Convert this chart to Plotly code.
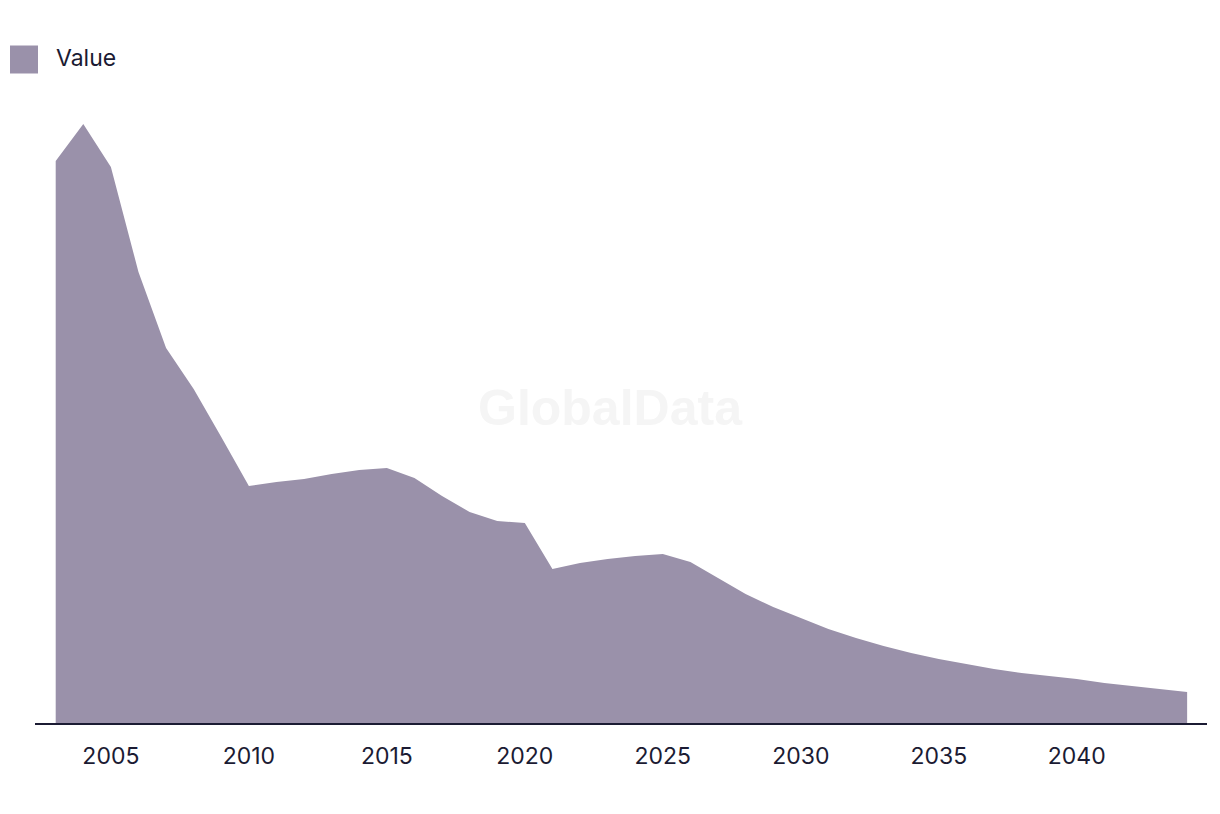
import plotly.graph_objects as go

years = list(range(2003, 2045))
values = [56.2, 59.9, 55.6, 45.1, 37.5, 33.4, 28.6, 23.7, 24.1, 24.4,
          24.9, 25.3, 25.5, 24.5, 22.7, 21.1, 20.2, 20.0, 15.4, 16.0,
          16.4, 16.7, 16.9, 16.1, 14.5, 12.9, 11.6, 10.5, 9.4, 8.5,
          7.7, 7.0, 6.4, 5.9, 5.4, 5.0, 4.7, 4.4, 4.0, 3.7,
          3.4, 3.1]
tick_vals = [2005, 2010, 2015, 2020, 2025, 2030, 2035, 2040]
series_name = "Value"

FILL = "#9a91aa"
TEXT = "#1b1b33"
FONT = "Inter, 'Liberation Sans', Arial, sans-serif"

W, H = 1220, 814
L, R, T, B = 35, 13, 100, 91
pw, ph = W - L - R, H - T - B

def px_to_paper_x(px):
    return (px - L) / pw

def px_to_paper_y(py):
    return (H - B - py) / ph

fig = go.Figure()
fig.add_trace(go.Scatter(
    x=years, y=values, mode="lines", fill="tozeroy",
    fillcolor=FILL, line=dict(width=0, color=FILL),
    name=series_name, showlegend=False, hoverinfo="x+y",
))

fig.update_layout(
    width=W, height=H,
    margin=dict(l=L, r=R, t=T, b=B),
    paper_bgcolor="white", plot_bgcolor="white",
    font=dict(family=FONT, color=TEXT),
    xaxis=dict(
        range=[2002.25, 2044.72],
        tickvals=tick_vals,
        ticktext=[str(v) for v in tick_vals],
        tickfont=dict(size=23, color=TEXT, family=FONT),
        showgrid=False, zeroline=False,
        showline=True, linecolor=TEXT, linewidth=1.5,
        ticks="outside", ticklen=12, tickcolor="rgba(0,0,0,0)",
    ),
    yaxis=dict(
        range=[0, 62.3], showgrid=False, zeroline=False,
        showticklabels=False, showline=False, ticks="",
    ),
    shapes=[dict(
        type="rect", xref="paper", yref="paper",
        x0=px_to_paper_x(10), x1=px_to_paper_x(38),
        y0=px_to_paper_y(73.5), y1=px_to_paper_y(45.5),
        fillcolor=FILL, line=dict(width=0),
    )],
    annotations=[
        dict(text=series_name, xref="paper", yref="paper",
             x=px_to_paper_x(54), y=px_to_paper_y(58),
             xanchor="left", yanchor="middle", showarrow=False,
             font=dict(size=23, color=TEXT, family=FONT)),
        dict(text="<b>GlobalData</b>", xref="paper", yref="paper",
             x=px_to_paper_x(610), y=px_to_paper_y(408),
             xanchor="center", yanchor="middle", showarrow=False,
             font=dict(size=50, color="#f5f5f5",
                       family="'Liberation Sans', Arial, sans-serif")),
    ],
)

fig.write_html("out.html")
